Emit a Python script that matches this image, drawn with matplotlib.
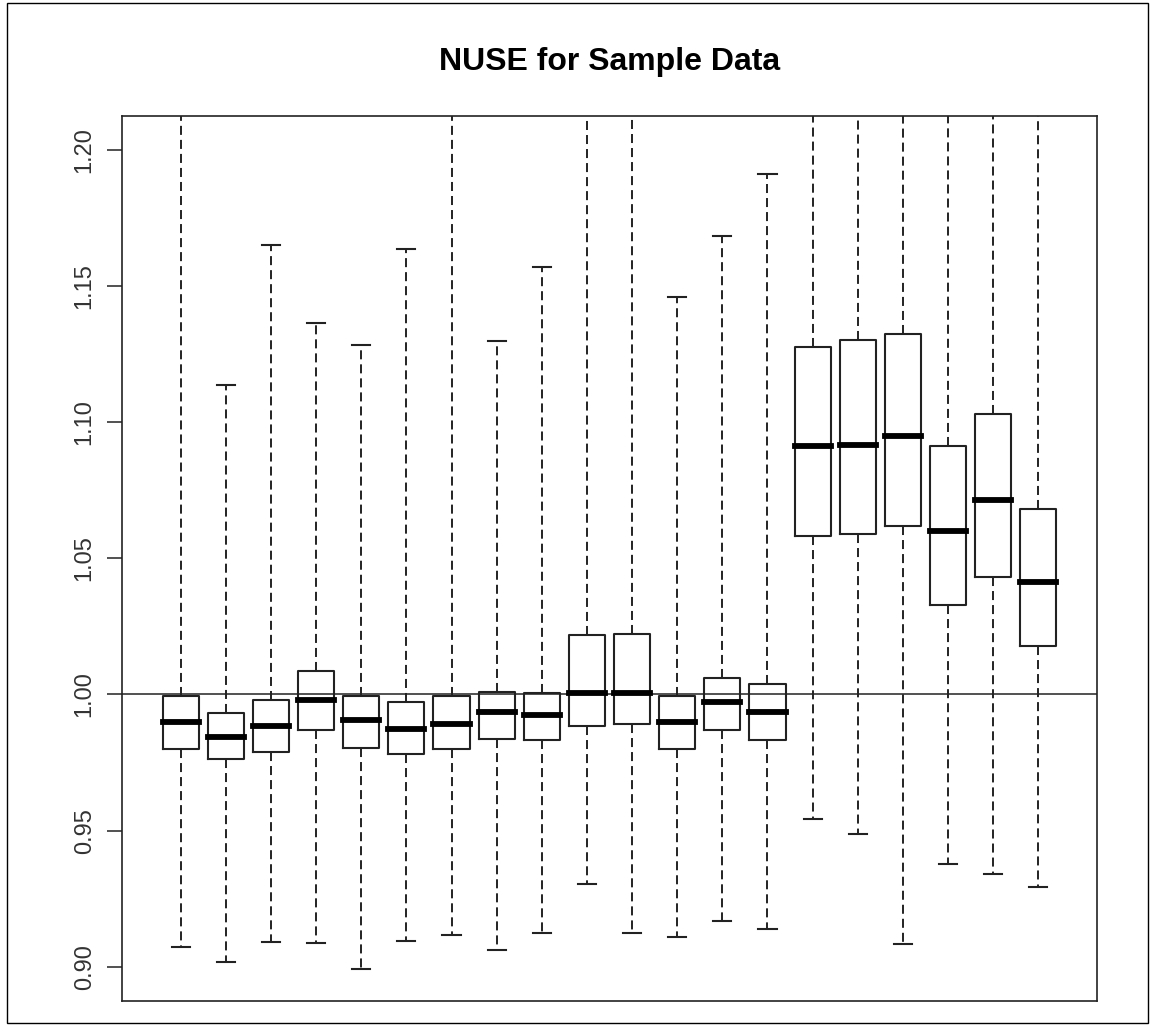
import numpy as np
import matplotlib
matplotlib.use('Agg')
import matplotlib.pyplot as plt
from matplotlib.patches import Rectangle

plt.rcParams['font.family'] = ['Liberation Sans', 'DejaVu Sans']
plt.rcParams['lines.scale_dashes'] = False

# five-number summaries, one entry per box
whislo = [0.9073, 0.9018, 0.9091, 0.9086, 0.8992, 0.9093, 0.9116, 0.9061, 0.9123, 0.9303,
          0.9123, 0.9110, 0.9166, 0.9140, 0.9544, 0.9489, 0.9085, 0.9377, 0.9339, 0.9291]
q1 = [0.9800, 0.9762, 0.9787, 0.9869, 0.9805, 0.9780, 0.9800, 0.9837, 0.9831, 0.9886,
      0.9893, 0.9799, 0.9869, 0.9831, 1.0583, 1.0588, 1.0619, 1.0327, 1.0432, 1.0179]
med = [0.9899, 0.9843, 0.9886, 0.9979, 0.9906, 0.9874, 0.9893, 0.9936, 0.9924, 1.0005,
       1.0005, 0.9899, 0.9973, 0.9936, 1.0912, 1.0918, 1.0949, 1.0600, 1.0713, 1.0415]
q3 = [0.9995, 0.9931, 0.9979, 1.0086, 0.9995, 0.9973, 0.9995, 1.0010, 1.0006, 1.0217,
      1.0222, 0.9994, 1.0059, 1.0038, 1.1278, 1.1303, 1.1324, 1.0912, 1.1029, 1.0683]
# whiskers that run off the top of the plot get a value above the y limit
whishi = [1.2300, 1.1136, 1.1650, 1.1364, 1.1283, 1.1638, 1.2300, 1.1297, 1.1571, 1.2300,
          1.2300, 1.1462, 1.1684, 1.1913, 1.2300, 1.2300, 1.2300, 1.2300, 1.2300, 1.2300]
yticks = [0.90, 0.95, 1.00, 1.05, 1.10, 1.15, 1.20]
title = 'NUSE for Sample Data'

stats = []
for i in range(len(med)):
    stats.append({'whislo': whislo[i], 'q1': q1[i], 'med': med[i],
                  'q3': q3[i], 'whishi': whishi[i]})

fig = plt.figure(figsize=(11.5, 10.25), dpi=100)
ax = fig.add_axes([0.1061, 0.0237, 0.8478, 0.8631])

pos = np.arange(1, len(med) + 1)
ax.bxp(stats, positions=pos, widths=0.8, showfliers=False, capwidths=0.4,
       boxprops=dict(color='#222222', linewidth=1.5),
       medianprops=dict(color='black', linewidth=4.2, solid_capstyle='projecting'),
       whiskerprops=dict(color='#222222', linewidth=1.4, linestyle=(0, (6.5, 3.6))),
       capprops=dict(color='#222222', linewidth=1.5))

ax.axhline(1.0, color='#222222', linewidth=1.1, zorder=0)

ax.set_xlim(-0.3, 21.3)
ax.set_ylim(0.8875, 1.2125)
ax.set_xticks([])
ax.set_yticks(yticks)
ax.set_yticklabels(['%.2f' % v for v in yticks])
ax.tick_params(axis='y', length=11, width=1.1, color='#222222', pad=8,
               labelsize=17, labelcolor='#333333')
for lab in ax.get_yticklabels():
    lab.set_rotation(90)
    lab.set_va('center')
for s in ax.spines.values():
    s.set_linewidth(1.2)
    s.set_color('#222222')

fig.text(0.53, 0.9395, title, ha='center', va='center', fontsize=23, fontweight='bold')

# thin frame round the whole picture
fig.patches.append(Rectangle((7 / 1150, 2 / 1025), 1141 / 1150, 1020 / 1025,
                             transform=fig.transFigure, fill=False,
                             edgecolor='black', linewidth=1.0))

fig.savefig('out.png', dpi=100)
